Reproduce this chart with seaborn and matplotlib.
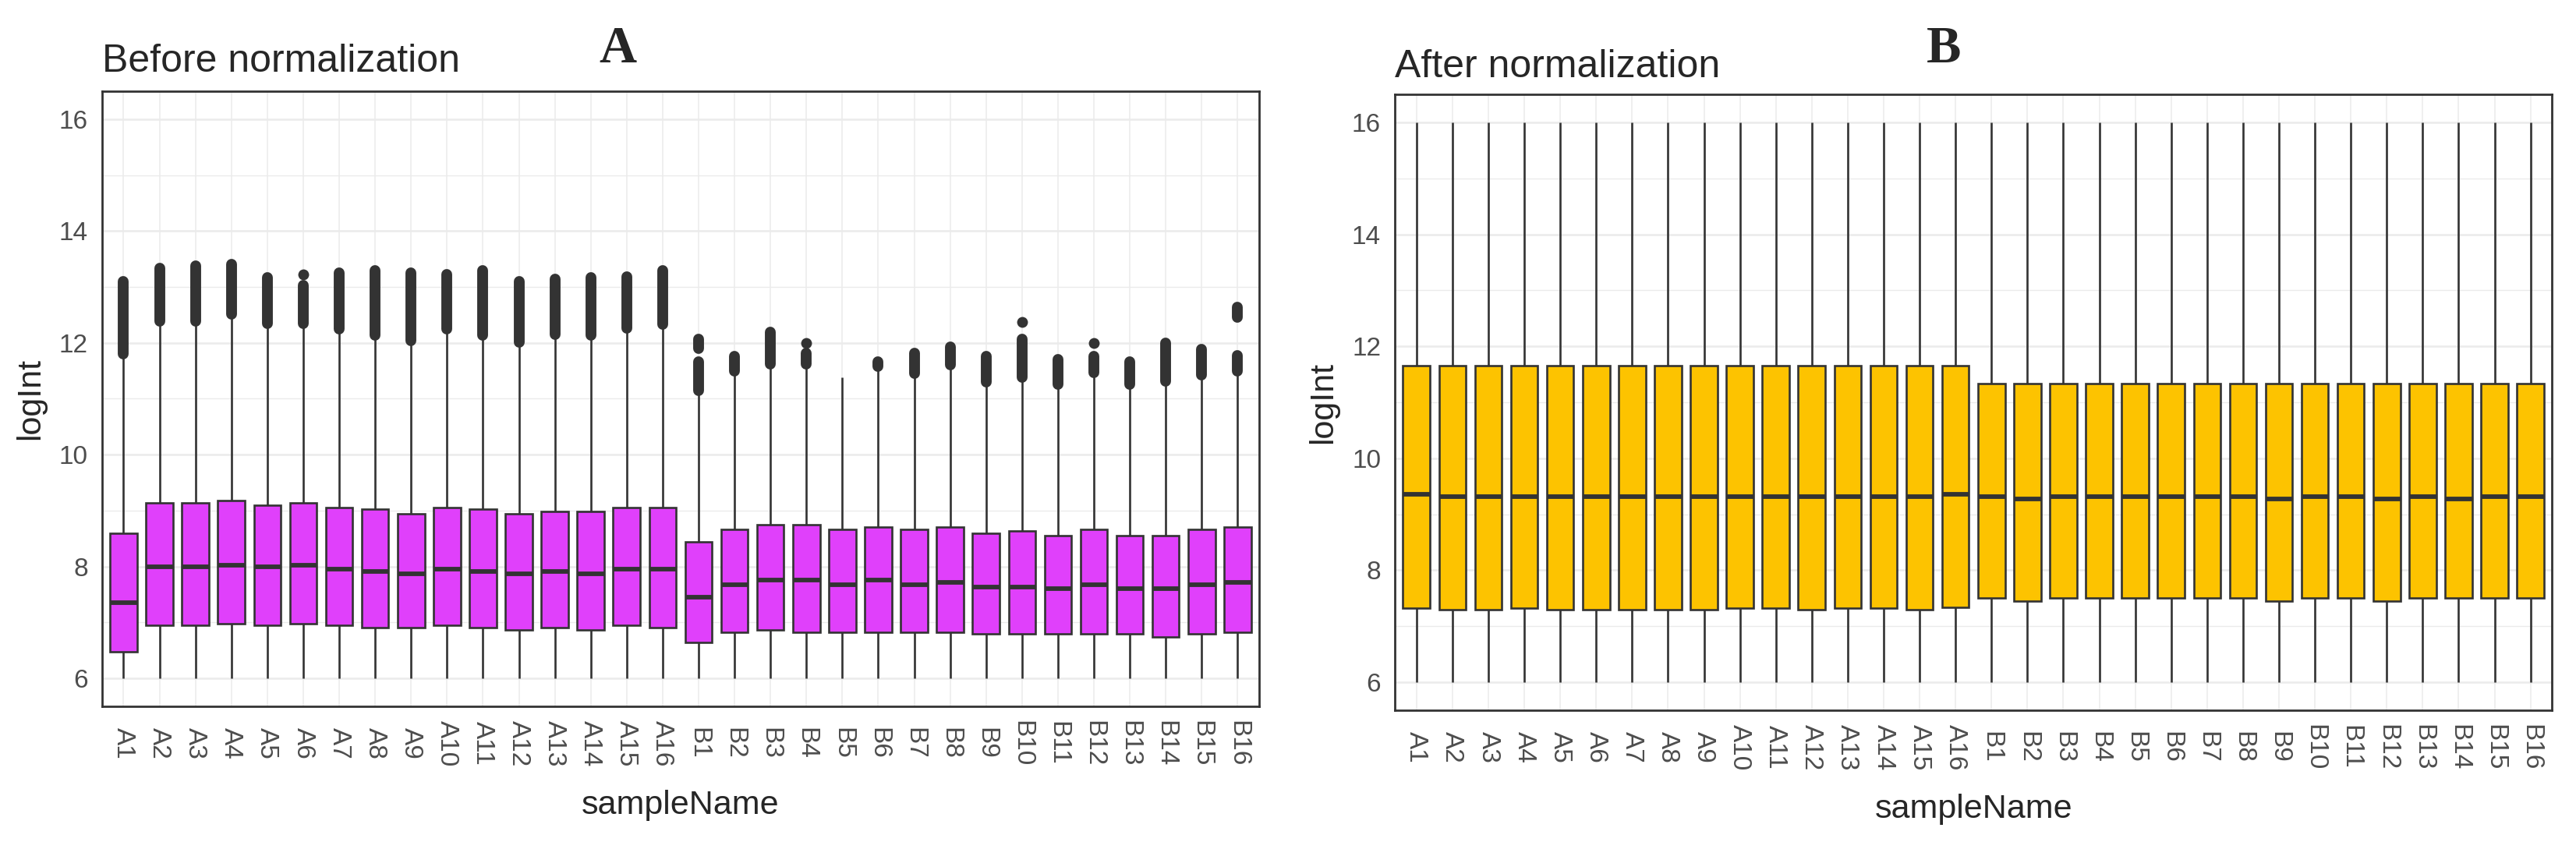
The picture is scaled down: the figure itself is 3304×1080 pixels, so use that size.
# Boxplots of logInt per sample, before / after normalization
import pandas as pd
import seaborn as sns
import matplotlib.pyplot as plt

# Samples
samples = ["A1", "A2", "A3", "A4", "A5", "A6", "A7", "A8",
           "A9", "A10", "A11", "A12", "A13", "A14", "A15", "A16",
           "B1", "B2", "B3", "B4", "B5", "B6", "B7", "B8",
           "B9", "B10", "B11", "B12", "B13", "B14", "B15", "B16"]

# Before normalization: box statistics
pre_low = [6.0] * 32
pre_q1 = [6.48, 6.95, 6.95, 6.98, 6.95, 6.98, 6.95, 6.91, 6.91, 6.95, 6.91, 6.86, 6.91, 6.86, 6.95, 6.91,
          6.64, 6.82, 6.86, 6.82, 6.82, 6.82, 6.82, 6.82, 6.79, 6.79, 6.79, 6.79, 6.79, 6.74, 6.79, 6.82]
pre_med = [7.36, 7.99, 7.99, 8.03, 7.99, 8.03, 7.95, 7.91, 7.87, 7.95, 7.91, 7.87, 7.91, 7.87, 7.95, 7.95,
           7.45, 7.68, 7.76, 7.76, 7.68, 7.76, 7.68, 7.72, 7.63, 7.63, 7.60, 7.68, 7.60, 7.60, 7.68, 7.72]
pre_q3 = [8.60, 9.14, 9.14, 9.18, 9.10, 9.14, 9.06, 9.03, 8.95, 9.06, 9.03, 8.95, 8.98, 8.98, 9.06, 9.06,
          8.44, 8.67, 8.75, 8.75, 8.67, 8.71, 8.67, 8.71, 8.59, 8.63, 8.55, 8.67, 8.55, 8.55, 8.67, 8.71]
pre_high = [11.74, 12.33, 12.33, 12.45, 12.28, 12.28, 12.19, 12.08, 11.98, 12.19, 12.08, 11.95, 12.09, 12.07, 12.20, 12.27,
            11.07, 11.43, 11.55, 11.55, 11.39, 11.51, 11.38, 11.53, 11.23, 11.31, 11.19, 11.40, 11.19, 11.24, 11.36, 11.43]

# Before normalization: dense runs of outliers (from, to) and single outliers
band_sample = ["A1", "A2", "A3", "A4", "A5", "A6", "A7", "A8", "A9", "A10", "A11", "A12", "A13", "A14", "A15", "A16",
               "B1", "B1", "B2", "B3", "B4", "B6", "B7", "B8", "B9", "B10", "B11", "B12", "B13", "B14", "B15", "B16", "B16"]
band_lo = [11.80, 12.39, 12.39, 12.51, 12.34, 12.34, 12.25, 12.14, 12.04, 12.25, 12.14, 12.01, 12.15, 12.13, 12.26, 12.33,
           11.14, 11.90, 11.50, 11.62, 11.62, 11.58, 11.45, 11.60, 11.30, 11.38, 11.26, 11.47, 11.26, 11.31, 11.43, 11.50, 12.45]
band_hi = [13.10, 13.34, 13.37, 13.41, 13.17, 13.03, 13.25, 13.29, 13.25, 13.22, 13.29, 13.10, 13.14, 13.17, 13.18, 13.30,
           11.66, 12.07, 11.76, 12.19, 11.81, 11.66, 11.82, 11.93, 11.76, 12.07, 11.71, 11.76, 11.66, 11.99, 11.88, 11.78, 12.64]
dot_sample = ["A6", "B4", "B10", "B12"]
dot_value = [13.22, 12.00, 12.37, 11.99]

# After normalization
post_low = [6.0] * 32
post_q1 = [7.33, 7.30, 7.30, 7.33, 7.30, 7.30, 7.30, 7.30, 7.30, 7.33, 7.33, 7.30, 7.33, 7.33, 7.30, 7.34,
           7.51, 7.45, 7.51, 7.51, 7.51, 7.51, 7.51, 7.51, 7.45, 7.51, 7.51, 7.45, 7.51, 7.51, 7.51, 7.51]
post_med = [9.35, 9.32, 9.32, 9.32, 9.32, 9.32, 9.32, 9.32, 9.32, 9.32, 9.32, 9.32, 9.32, 9.32, 9.32, 9.36,
            9.31, 9.28, 9.31, 9.31, 9.31, 9.31, 9.31, 9.31, 9.28, 9.31, 9.31, 9.28, 9.31, 9.28, 9.31, 9.31]
post_q3 = [11.65] * 16 + [11.34] * 16
post_high = [16.0] * 32

EDGE = "#333333"

sns.set_style("white")
plt.rcParams['font.family'] = ['Liberation Sans', 'DejaVu Sans']


def stats_frame(low, q1, med, q3, high):
    rows = []
    for i, s in enumerate(samples):
        for v in (low[i], q1[i], med[i], q3[i], high[i]):
            rows.append({"sampleName": s, "logInt": v})
    return pd.DataFrame(rows)


def style_panel(ax, title, title_pad):
    ax.set_xlim(-0.6, len(samples) - 0.4)
    ax.set_ylim(5.5, 16.5)
    ax.set_yticks([6, 8, 10, 12, 14, 16])
    ax.set_yticks([7, 9, 11, 13, 15], minor=True)
    ax.set_xticks(range(len(samples)))
    ax.set_xticklabels(samples, rotation=-90, va="center", ha="center")
    ax.grid(which="major", axis="y", color="#EBEBEB", linewidth=1.8)
    ax.grid(which="minor", axis="y", color="#EBEBEB", linewidth=1.0)
    ax.grid(which="major", axis="x", color="#EBEBEB", linewidth=1.1)
    ax.set_axisbelow(True)
    ax.tick_params(axis="x", which="major", length=8, width=1.6, color=EDGE,
                   labelcolor="#4D4D4D", labelsize=24, pad=26)
    ax.tick_params(axis="y", which="major", length=8, width=1.6, color=EDGE,
                   labelcolor="#4D4D4D", labelsize=24, pad=5)
    ax.tick_params(which="minor", length=0)
    for sp in ax.spines.values():
        sp.set_visible(True)
        sp.set_color(EDGE)
        sp.set_linewidth(2.0)
    ax.set_xlabel("sampleName", fontsize=31, labelpad=22)
    ax.set_ylabel("logInt", fontsize=31, labelpad=12)
    ax.set_title(title, loc="left", fontsize=36, pad=title_pad)


def draw_boxes(ax, df, color):
    sns.boxplot(data=df, x="sampleName", y="logInt", order=samples, ax=ax,
                color=color, saturation=1, width=0.75, whis=(0, 100),
                showfliers=False, showcaps=False, linecolor=EDGE, linewidth=1.9,
                medianprops={"linewidth": 4.2})


fig = plt.figure(figsize=(33.04, 10.8), dpi=100)
axA = fig.add_axes([0.0396, 0.1611, 0.4492, 0.7306])
axB = fig.add_axes([0.5415, 0.1565, 0.4492, 0.7315])

## Panel A
draw_boxes(axA, stats_frame(pre_low, pre_q1, pre_med, pre_q3, pre_high), "#E040FB")
band_x = [samples.index(s) for s in band_sample]
lc = axA.vlines(band_x, band_lo, band_hi, color=EDGE, linewidth=10)
lc.set_capstyle("round")
sns.stripplot(x=dot_sample, y=dot_value, order=samples, jitter=False,
              color=EDGE, size=10, ax=axA)
style_panel(axA, "Before normalization", 18)

## Panel B
draw_boxes(axB, stats_frame(post_low, post_q1, post_med, post_q3, post_high), "#FDC300")
style_panel(axB, "After normalization", 16)

## Panel letters
fig.text(792 / 3304, 1 - 80 / 1080, "A", ha="center", va="baseline", fontsize=48,
         fontweight="bold", family=["Liberation Serif", "DejaVu Serif"])
fig.text(2493 / 3304, 1 - 80 / 1080, "B", ha="center", va="baseline", fontsize=48,
         fontweight="bold", family=["Liberation Serif", "DejaVu Serif"])

fig.savefig("out.png", dpi=100)
